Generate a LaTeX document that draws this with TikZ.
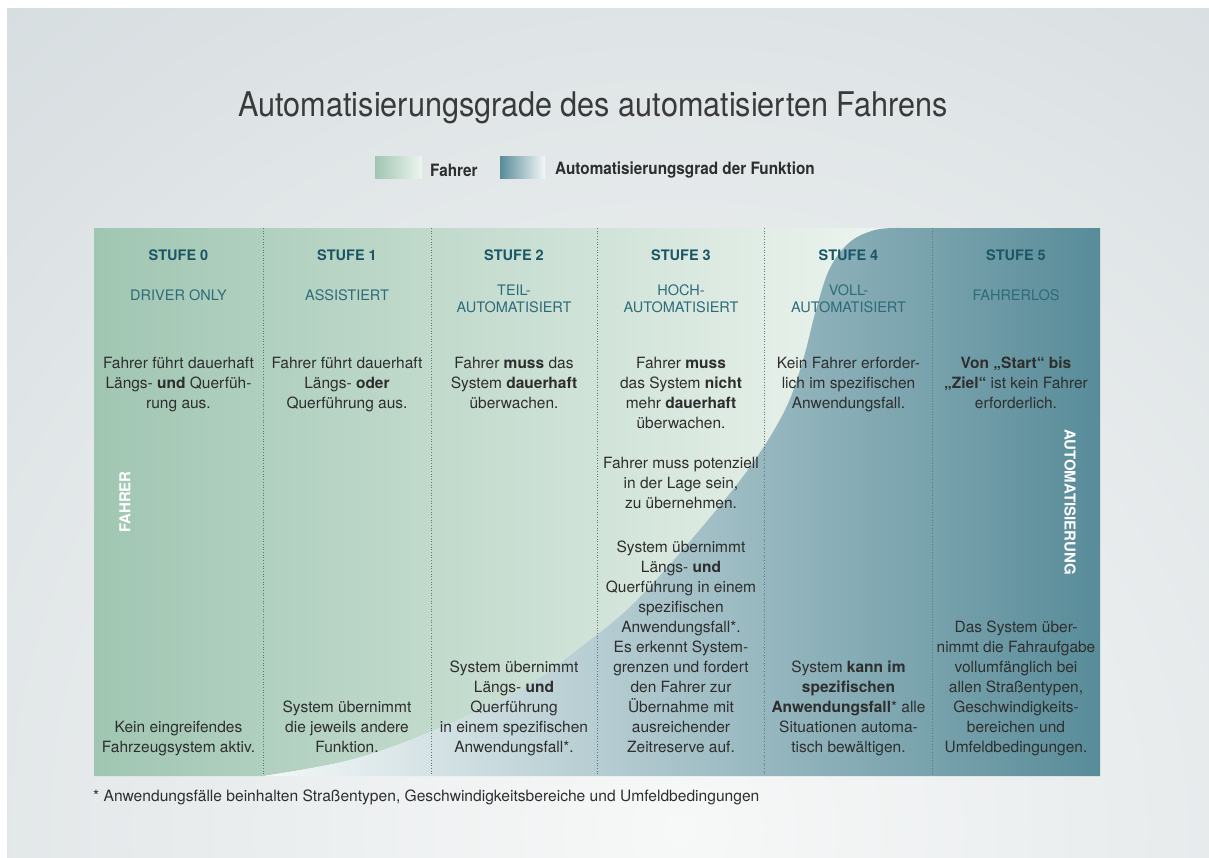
\documentclass[tikz,border=0pt]{standalone}
\usepackage{fontspec}
\setmainfont{TeX Gyre Heros}
\newfontfamily\condfont[FakeStretch=0.9]{TeX Gyre Heros}
\definecolor{bgbase}{HTML}{D0D8DB}
\definecolor{bglight}{HTML}{F7F8F8}
\definecolor{greenL}{HTML}{A0C6B2}
\definecolor{greenR}{HTML}{EEF5F0}
\definecolor{blueL}{HTML}{F4F8F8}
\definecolor{blueR}{HTML}{588C99}
\definecolor{txt}{HTML}{2E2E2E}
\definecolor{titlec}{HTML}{3A3A3A}
\definecolor{head}{HTML}{1B5666}
\definecolor{sub}{HTML}{2D6B79}
\definecolor{divc}{HTML}{5E7A80}
\begin{document}
\begin{tikzpicture}[x=1pt,y=-1pt,
  body/.style={font=\fontsize{15.5}{20}\selectfont, text=txt, align=center, inner sep=0pt,
    execute at begin node=\strut, execute at end node=\strut},
  stufe/.style={font=\fontsize{14.5}{17}\selectfont\bfseries, text=head, inner sep=0pt},
  levelname/.style={font=\fontsize{14.5}{17}\selectfont, text=sub, align=center, inner sep=0pt},
  vlabel/.style={font=\fontsize{15}{18}\selectfont\bfseries, text=white, inner sep=0pt},
  legendtext/.style={font=\condfont\fontsize{17}{20}\selectfont\bfseries, text=txt, inner sep=0pt, anchor=west},
  divider/.style={draw=divc, dotted, line width=0.7pt},
]
\useasboundingbox (0,0) rectangle (1209,857);
\fill[white] (0,0) rectangle (1209,857);
\fill[bgbase] (7,8) rectangle (1209,857);
\begin{scope}
  \clip (7,8) rectangle (1209,857);
  \shade[inner color=bglight, outer color=bgbase] (680,830) circle (1300);
\end{scope}

% title
\node[font=\condfont\fontsize{34}{38}\selectfont, text=titlec, inner sep=0pt] (title) at (593,108)
  {Automatisierungsgrade des automatisierten Fahrens};

% legend
\shade[left color=greenL, right color=greenR] (375,156) rectangle (422,178);
\node[legendtext] (lgfahrer) at (430,170) {Fahrer};
\shade[left color=blueR, right color=blueL] (500,156) rectangle (545,178);
\node[legendtext] (lgauto) at (555,170) {Automatisierungsgrad der Funktion};

% regions
\shade[left color=greenL, right color=greenR]
  (94,228) -- plot[smooth, tension=0.6] coordinates {(900,228) (875,230) (850,242) (830,268) (816,310) (803,360) (785,410) (750,467) (697,533) (637,600) (590,640) (520,690) (430,732) (350,760) (263,776)}
  -- (94,776) -- cycle;
\shade[left color=blueL, right color=blueR]
  (263,776) -- plot[smooth, tension=0.6] coordinates {(263,776) (350,760) (430,732) (520,690) (590,640) (637,600) (697,533) (750,467) (785,410) (803,360) (816,310) (830,268) (850,242) (875,230) (900,228)}
  -- (1100,228) -- (1100,776) -- cycle;

% dividers
\foreach \xx in {263,431,597,764,932} \draw[divider] (\xx,228) -- (\xx,776);

% headings
\node[stufe] (s0) at (178.5,255) {STUFE 0};
\node[stufe] (s1) at (347,255) {STUFE 1};
\node[stufe] (s2) at (514,255) {STUFE 2};
\node[stufe] (s3) at (681,255) {STUFE 3};
\node[stufe] (s4) at (848.5,255) {STUFE 4};
\node[stufe] (s5) at (1016,255) {STUFE 5};

\node[levelname] (n0) at (178.5,295) {DRIVER ONLY};
\node[levelname] (n1) at (347,295) {ASSISTIERT};
\node[levelname] (n2) at (514,298.5) {TEIL-\\AUTOMATISIERT};
\node[levelname] (n3) at (681,298.5) {HOCH-\\AUTOMATISIERT};
\node[levelname] (n4) at (848.5,298.5) {VOLL-\\AUTOMATISIERT};
\node[levelname] (n5) at (1016,295) {FAHRERLOS};

% top texts
\node[body, anchor=north] (t0) at (178.5,357) {Fahrer führt dauerhaft\\Längs- \textbf{und} Querfüh-\\rung aus.};
\node[body, anchor=north] (t1) at (347,357) {Fahrer führt dauerhaft\\Längs- \textbf{oder}\\Querführung aus.};
\node[body, anchor=north] (t2) at (514,357) {Fahrer \textbf{muss} das\\System \textbf{dauerhaft}\\überwachen.};
\node[body, anchor=north] (t3) at (681,357) {Fahrer \textbf{muss}\\das System \textbf{nicht}\\mehr \textbf{dauerhaft}\\überwachen.};
\node[body, anchor=north] (t3b) at (681,457) {Fahrer muss potenziell\\in der Lage sein,\\zu übernehmen.};
\node[body, anchor=north] (t4) at (848.5,357) {Kein Fahrer erforder-\\lich im spezifischen\\Anwendungsfall.};
\node[body, anchor=north] (t5) at (1016,357) {\textbf{Von „Start“ bis}\\\textbf{„Ziel“} ist kein Fahrer\\erforderlich.};

% bottom texts
\node[body, anchor=south] (b0) at (178.5,759) {Kein eingreifendes\\Fahrzeugsystem aktiv.};
\node[body, anchor=south] (b1) at (347,759) {System übernimmt\\die jeweils andere\\Funktion.};
\node[body, anchor=south] (b2) at (514,759) {System übernimmt\\Längs- \textbf{und}\\Querführung\\in einem spezifischen\\Anwendungsfall*.};
\node[body, anchor=south] (b3) at (681,759) {System übernimmt\\Längs- \textbf{und}\\Querführung in einem\\spezifischen\\Anwendungsfall*.\\Es erkennt System-\\grenzen und fordert\\den Fahrer zur\\Übernahme mit\\ausreichender\\Zeitreserve auf.};
\node[body, anchor=south] (b4) at (848.5,759) {System \textbf{kann im}\\\textbf{spezifischen}\\\textbf{Anwendungsfall}* alle\\Situationen automa-\\tisch bewältigen.};
\node[body, anchor=south] (b5) at (1016,759) {Das System über-\\nimmt die Fahraufgabe\\vollumfänglich bei\\allen Straßentypen,\\Geschwindigkeits-\\bereichen und\\Umfeldbedingungen.};

% vertical labels
\node[vlabel, rotate=90] (vf) at (125,502) {FAHRER};
\node[vlabel, rotate=-90] (va) at (1070,502) {AUTOMATISIERUNG};

% footnote
\node[font=\fontsize{15.6}{18}\selectfont, text=txt, inner sep=0pt, anchor=west] (foot) at (93,797)
  {* Anwendungsfälle beinhalten Straßentypen, Geschwindigkeitsbereiche und Umfeldbedingungen};
\end{tikzpicture}
\end{document}
